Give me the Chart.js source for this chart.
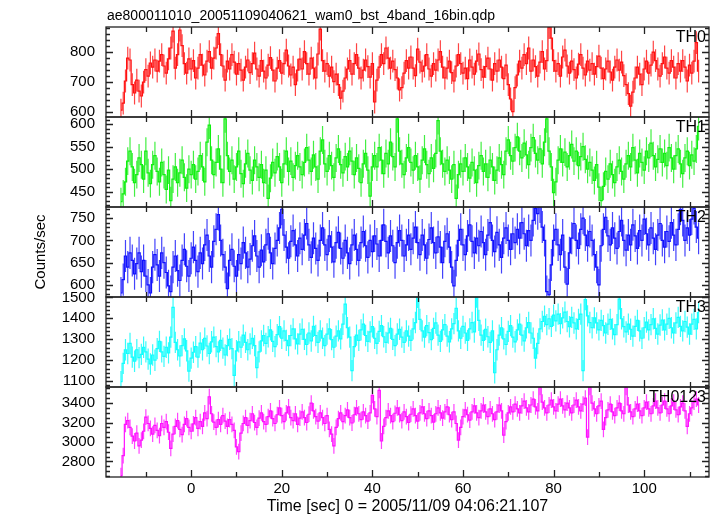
<!DOCTYPE html>
<html>
<head>
<meta charset="utf-8">
<script src="https://cdn.jsdelivr.net/npm/chart.js@4.4.1/dist/chart.umd.min.js"></script>
<style>
  html, body { margin: 0; padding: 0; background: #fff; }
  #wrap { width: 717px; height: 516px; }
</style>
</head>
<body>
<div id="wrap"><canvas id="chart" width="717" height="516"></canvas></div>
<script>
// time bins: 0.5 s wide, first bin starts at -15.75 s
const binStart = -15.75;
const binWidth = 0.5;

const th0Counts = [
  605, 628, 702, 778, 772, 690, 662, 705, 668, 652, 698, 740, 718, 762, 748, 772,
  735, 768, 790, 752, 728, 776, 812, 868, 745, 790, 872, 820, 760, 728, 776, 742,
  770, 712, 745, 790, 755, 722, 768, 800, 745, 778, 812, 860, 790, 752, 705, 768,
  742, 790, 765, 725, 760, 738, 705, 748, 772, 730, 760, 795, 742, 718, 770, 735,
  712, 755, 780, 738, 702, 745, 770, 728, 760, 805, 752, 722, 748, 690, 738, 775,
  742, 800, 760, 725, 778, 745, 712, 792, 875, 770, 735, 760, 718, 748, 700, 725,
  690, 645, 668, 712, 742, 770, 725, 760, 790, 745, 712, 738, 772, 750, 715, 760,
  632, 705, 748, 790, 760, 812, 778, 745, 768, 740, 712, 672, 680, 728, 770, 745,
  782, 745, 720, 808, 765, 735, 752, 790, 742, 718, 760, 738, 772, 800, 748, 712,
  745, 768, 730, 702, 752, 790, 760, 728, 745, 710, 772, 748, 725, 768, 792, 740,
  715, 750, 778, 742, 705, 760, 735, 772, 748, 710, 755, 690, 642, 600, 680, 722,
  768, 745, 790, 760, 812, 735, 772, 750, 718, 765, 800, 742, 770, 880, 845, 770,
  735, 760, 718, 782, 805, 752, 728, 768, 740, 712, 758, 790, 745, 722, 768, 738,
  760, 725, 750, 785, 745, 710, 742, 768, 732, 705, 748, 772, 738, 765, 720, 690,
  660, 618, 665, 712, 748, 725, 690, 742, 768, 728, 755, 798, 770, 742, 718, 760,
  782, 745, 728, 770, 748, 712, 760, 735, 770, 748, 702, 755, 728, 768, 830, 735
];
const th1Counts = [
  428, 445, 472, 518, 540, 505, 470, 488, 525, 510, 478, 540, 492, 468, 510, 530,
  495, 472, 515, 488, 455, 498, 430, 478, 505, 470, 492, 520, 482, 458, 500, 488,
  510, 478, 495, 530, 505, 472, 560, 598, 520, 488, 515, 545, 500, 470, 612, 530,
  495, 520, 478, 505, 540, 490, 468, 512, 535, 498, 475, 520, 505, 482, 510, 470,
  498, 435, 480, 515, 492, 528, 505, 470, 512, 540, 495, 518, 482, 508, 530, 505,
  488, 515, 548, 520, 495, 532, 505, 478, 540, 565, 512, 495, 530, 508, 482, 525,
  545, 510, 492, 528, 505, 540, 518, 488, 525, 502, 470, 512, 535, 498, 440, 505,
  530, 505, 548, 520, 490, 535, 512, 560, 528, 505, 612, 540, 512, 488, 525, 548,
  515, 498, 530, 505, 478, 520, 545, 510, 490, 525, 502, 535, 608, 540, 512, 495,
  520, 498, 478, 510, 435, 488, 512, 495, 525, 505, 480, 515, 498, 470, 508, 530,
  495, 512, 482, 520, 505, 475, 498, 525, 510, 488, 540, 565, 530, 518, 548, 572,
  540, 525, 558, 532, 510, 548, 570, 535, 520, 545, 512, 560, 612, 540, 505, 448,
  472, 520, 545, 515, 538, 505, 530, 555, 518, 540, 508, 528, 550, 522, 500, 515,
  498, 475, 510, 460, 430, 462, 495, 478, 512, 488, 470, 505, 520, 495, 478, 512,
  530, 505, 548, 520, 492, 535, 515, 498, 540, 525, 558, 530, 505, 522, 545, 515,
  535, 508, 548, 525, 500, 530, 545, 512, 490, 525, 540, 508, 532, 518, 545, 595
];
const th2Counts = [
  582, 612, 665, 640, 672, 655, 625, 648, 672, 630, 655, 620, 600, 582, 640, 668,
  645, 620, 672, 650, 628, 598, 585, 640, 665, 632, 610, 655, 680, 642, 620, 660,
  685, 655, 630, 672, 648, 690, 712, 665, 640, 698, 725, 758, 700, 668, 640, 592,
  655, 680, 642, 620, 668, 648, 695, 672, 640, 658, 688, 710, 665, 640, 678, 652,
  690, 715, 672, 648, 682, 700, 728, 770, 712, 685, 660, 698, 722, 690, 665, 705,
  680, 712, 738, 690, 662, 705, 682, 655, 700, 728, 690, 668, 710, 685, 652, 695,
  718, 682, 660, 700, 672, 648, 690, 712, 680, 655, 695, 720, 688, 662, 700, 675,
  710, 692, 665, 700, 735, 698, 672, 710, 688, 650, 695, 722, 700, 665, 690, 712,
  680, 705, 730, 695, 668, 712, 690, 660, 702, 728, 695, 672, 708, 685, 650, 698,
  715, 685, 640, 598, 655, 700, 725, 690, 668, 710, 735, 698, 672, 705, 688, 720,
  695, 668, 712, 740, 700, 675, 718, 690, 662, 705, 728, 700, 680, 715, 695, 725,
  705, 740, 715, 688, 722, 700, 745, 772, 760, 775, 730, 700, 585, 578, 645, 700,
  725, 690, 668, 712, 640, 602, 672, 705, 738, 700, 682, 725, 750, 712, 688, 720,
  700, 668, 640, 600, 688, 725, 752, 710, 690, 728, 705, 682, 720, 745, 700, 678,
  712, 690, 735, 710, 682, 722, 700, 748, 715, 690, 728, 705, 680, 712, 738, 700,
  685, 720, 698, 740, 712, 690, 725, 770, 745, 700, 728, 712, 748, 772, 730, 705
];
const th3Counts = [
  1098, 1185, 1250, 1232, 1280, 1215, 1195, 1250, 1212, 1228, 1262, 1240, 1205, 1182, 1225, 1200,
  1255, 1290, 1240, 1218, 1262, 1235, 1310, 1452, 1285, 1250, 1220, 1270, 1302, 1245, 1148, 1210,
  1238, 1265, 1215, 1282, 1250, 1305, 1268, 1232, 1288, 1310, 1265, 1240, 1295, 1258, 1225, 1270,
  1300, 1255, 1128, 1245, 1288, 1262, 1320, 1285, 1250, 1278, 1305, 1270, 1165, 1240, 1292, 1318,
  1280, 1312, 1345, 1290, 1265, 1322, 1360, 1305, 1340, 1295, 1270, 1318, 1350, 1302, 1278, 1325,
  1348, 1300, 1275, 1330, 1292, 1362, 1318, 1285, 1340, 1305, 1270, 1325, 1350, 1298, 1262, 1315,
  1340, 1302, 1372, 1468, 1355, 1310, 1150, 1265, 1320, 1295, 1345, 1372, 1318, 1290, 1335, 1360,
  1305, 1280, 1338, 1365, 1312, 1285, 1330, 1352, 1300, 1270, 1325, 1348, 1310, 1285, 1340, 1315,
  1295, 1350, 1380, 1500, 1395, 1340, 1310, 1365, 1332, 1298, 1352, 1378, 1320, 1290, 1345, 1370,
  1315, 1288, 1350, 1375, 1448, 1340, 1305, 1362, 1330, 1295, 1350, 1380, 1335, 1502, 1390, 1320,
  1295, 1348, 1312, 1285, 1340, 1140, 1250, 1320, 1355, 1302, 1275, 1338, 1365, 1310, 1288, 1345,
  1372, 1320, 1292, 1355, 1380, 1330, 1305, 1210, 1280, 1350, 1385, 1410, 1370, 1398, 1362, 1415,
  1388, 1420, 1375, 1402, 1430, 1385, 1360, 1405, 1378, 1350, 1395, 1420, 1150, 1490, 1412, 1380,
  1355, 1402, 1378, 1345, 1390, 1365, 1330, 1372, 1395, 1350, 1322, 1370, 1492, 1398, 1360, 1335,
  1372, 1348, 1315, 1362, 1390, 1340, 1305, 1355, 1382, 1345, 1370, 1398, 1352, 1325, 1368, 1392,
  1345, 1372, 1400, 1355, 1330, 1378, 1405, 1362, 1340, 1385, 1358, 1325, 1372, 1395, 1350, 1428
];
const th0123Counts = [
  2655, 2860, 3180, 3220, 3150, 3060, 3010, 3090, 2960, 3020, 3110, 3255, 3190, 3140, 3080, 3170,
  3120, 3065, 3190, 3150, 3210, 3100, 2935, 3080, 3160, 3220, 3130, 3075, 3180, 3240, 3150, 3110,
  3185, 3250, 3140, 3210, 3160, 3300, 3240, 3465, 3290, 3205, 3150, 3230, 3180, 3270, 3215, 3160,
  3230, 3180, 3120, 2950, 2900, 3090, 3190, 3250, 3170, 3220, 3290, 3200, 3150, 3245, 3300, 3210,
  3180, 3260, 3320, 3240, 3190, 3280, 3350, 3270, 3210, 3300, 3360, 3250, 3220, 3290, 3180, 3245,
  3310, 3250, 3200, 3285, 3400, 3320, 3260, 3215, 3300, 3250, 3190, 3270, 3130, 3080, 2960, 3150,
  3240, 3300, 3210, 3270, 3330, 3250, 3195, 3280, 3350, 3290, 3230, 3310, 3270, 3215, 3300, 3480,
  3340, 3260, 3530, 3010, 3160, 3250, 3320, 3270, 3210, 3295, 3350, 3280, 3220, 3310, 3260, 3200,
  3285, 3340, 3270, 3215, 3300, 3360, 3290, 3240, 3320, 3270, 3205, 3290, 3350, 3300, 3245, 3310,
  3360, 3280, 3230, 3310, 3190, 3020, 3150, 3260, 3330, 3280, 3225, 3310, 3370, 3300, 3250, 3320,
  3380, 3310, 3260, 3340, 3290, 3230, 3310, 3380, 3320, 3070, 3210, 3300, 3360, 3310, 3390, 3340,
  3300, 3370, 3420, 3350, 3310, 3380, 3440, 3360, 3320, 3560, 3410, 3350, 3300, 3380, 3430, 3360,
  3320, 3390, 3440, 3370, 3330, 3400, 3350, 3300, 3380, 3430, 3360, 3320, 3390, 3450, 3050, 3560,
  3400, 3340, 3290, 3370, 3420, 3130, 3250, 3330, 3390, 3310, 3270, 3350, 3400, 3320, 3290, 3560,
  3380, 3310, 3260, 3340, 3390, 3320, 3270, 3350, 3410, 3340, 3290, 3370, 3420, 3350, 3300, 3380,
  3420, 3340, 3290, 3370, 3410, 3330, 3280, 3360, 3400, 3320, 3160, 3290, 3350, 3410, 3440, 3380
];

// half-length of the error bars, one per panel
const errorHalf = [38, 31, 36, 51, 81];

// axis ranges and labelled ticks for each panel
const th0Range = [582, 882],   th0Ticks = [600, 700, 800];
const th1Range = [416, 616],   th1Ticks = [450, 500, 550, 600];
const th2Range = [573, 775],   th2Ticks = [600, 650, 700, 750];
const th3Range = [1072, 1502], th3Ticks = [1100, 1200, 1300, 1400, 1500];
const th0123Range = [2640, 3565], th0123Ticks = [2800, 3000, 3200, 3400];
const minorSteps = [20, 10, 10, 20, 50];

const xRange = [-18.8, 114.3];
const xTickLabels = [0, 20, 40, 60, 80, 100];

const panels = [
  { name: 'TH0',    counts: th0Counts,    range: th0Range,    ticks: th0Ticks,    color: '#ff1010', errColor: 'rgba(255,20,20,0.8)' },
  { name: 'TH1',    counts: th1Counts,    range: th1Range,    ticks: th1Ticks,    color: '#10f010', errColor: 'rgba(20,235,20,0.8)' },
  { name: 'TH2',    counts: th2Counts,    range: th2Range,    ticks: th2Ticks,    color: '#1010ff', errColor: 'rgba(20,20,250,0.8)' },
  { name: 'TH3',    counts: th3Counts,    range: th3Range,    ticks: th3Ticks,    color: '#10ffff', errColor: 'rgba(20,250,250,0.85)' },
  { name: 'TH0123', counts: th0123Counts, range: th0123Range, ticks: th0123Ticks, color: '#ff10ff', errColor: 'rgba(255,20,255,0.8)' }
];

const FONT = '"Liberation Sans", Arial, Helvetica, sans-serif';
Chart.defaults.font.family = FONT;
Chart.defaults.font.size = 15;
Chart.defaults.color = '#000';

const binCenter = i => binStart + binWidth * (i + 0.5);

// build datasets: a stepped line plus error bars for each panel
const datasets = [];
panels.forEach((p, k) => {
  const e = errorHalf[k];
  datasets.push({
    data: p.counts.map((v, i) => ({ x: binCenter(i), y: v })),
    yAxisID: 'y' + k,
    borderColor: p.color,
    borderWidth: 1.2,
    stepped: 'middle',
    pointRadius: 0,
    fill: false,
    order: 1
  });
  const bars = [];
  p.counts.forEach((v, i) => {
    bars.push({ x: binCenter(i), y: v - e }, { x: binCenter(i), y: v + e }, { x: binCenter(i), y: null });
  });
  datasets.push({
    data: bars,
    yAxisID: 'y' + k,
    borderColor: p.errColor,
    borderWidth: 1.2,
    pointRadius: 0,
    spanGaps: false,
    fill: false,
    order: 2
  });
});

// scales: last defined left axis ends up at the top of the stack
const scales = {
  x: {
    type: 'linear',
    min: xRange[0],
    max: xRange[1],
    grid: { display: false, drawTicks: false },
    border: { display: false },
    ticks: { padding: 3, maxRotation: 0, autoSkip: false },
    afterBuildTicks: axis => { axis.ticks = xTickLabels.map(v => ({ value: v })); },
    afterFit: axis => { axis.height = 39; },
    title: { display: true, text: 'Time [sec] 0 = 2005/11/09 04:06:21.107', font: { size: 16 }, padding: { top: 0, bottom: 0 } }
  }
};
for (let k = panels.length - 1; k >= 0; k--) {
  const p = panels[k];
  scales['y' + k] = {
    type: 'linear',
    position: 'left',
    stack: 'panels',
    stackWeight: 1,
    min: p.range[0],
    max: p.range[1],
    grid: { display: false, drawTicks: false },
    border: { display: false },
    ticks: { padding: 11, autoSkip: false, callback: v => String(v) },
    afterBuildTicks: axis => { axis.ticks = p.ticks.map(v => ({ value: v })); },
    afterFit: axis => { axis.width = 106; },
    title: k === 2
      ? { display: true, text: 'Counts/sec', padding: { top: 32, bottom: 0 } }
      : { display: false }
  };
}

const framePlugin = {
  id: 'qdpFrame',
  beforeDatasetDraw(chart, args) {
    const ys = args.meta.yScale, area = chart.chartArea, ctx = chart.ctx;
    ctx.save();
    ctx.beginPath();
    ctx.rect(area.left, ys.top, area.right - area.left, ys.bottom - ys.top);
    ctx.clip();
  },
  afterDatasetDraw(chart) {
    chart.ctx.restore();
  },
  afterDraw(chart) {
    const ctx = chart.ctx, area = chart.chartArea, xs = chart.scales.x;
    ctx.save();
    ctx.strokeStyle = '#222';
    ctx.lineWidth = 1.3;
    panels.forEach((p, k) => {
      const ys = chart.scales['y' + k];
      ctx.strokeRect(area.left, ys.top, area.right - area.left, ys.bottom - ys.top);
      ctx.beginPath();
      const step = minorSteps[k];
      for (let v = Math.ceil(p.range[0] / step) * step; v <= p.range[1]; v += step) {
        const y = Math.round(ys.getPixelForValue(v)) + 0.5;
        const len = p.ticks.includes(v) ? 7 : 4;
        ctx.moveTo(area.left, y); ctx.lineTo(area.left + len, y);
        ctx.moveTo(area.right, y); ctx.lineTo(area.right - len, y);
      }
      for (let t = Math.ceil(xRange[0] / 10) * 10; t <= xRange[1]; t += 10) {
        const x = Math.round(xs.getPixelForValue(t)) + 0.5;
        const len = xTickLabels.includes(t) ? 7 : 5;
        ctx.moveTo(x, ys.top); ctx.lineTo(x, ys.top + len);
        ctx.moveTo(x, ys.bottom); ctx.lineTo(x, ys.bottom - len);
      }
      ctx.stroke();
      ctx.fillStyle = '#000';
      ctx.font = '16px ' + FONT;
      ctx.textAlign = 'right';
      ctx.textBaseline = 'middle';
      ctx.fillText(p.name, area.right - 3, ys.top + 11);
    });
    ctx.font = '14px ' + FONT;
    ctx.textAlign = 'left';
    ctx.textBaseline = 'middle';
    ctx.fillStyle = '#000';
    ctx.fillText('ae800011010_20051109040621_wam0_bst_4band_16bin.qdp', area.left + 1, 16);
    ctx.restore();
  }
};

new Chart(document.getElementById('chart'), {
  type: 'line',
  data: { datasets },
  options: {
    responsive: false,
    devicePixelRatio: 1,
    animation: false,
    layout: { padding: { top: 27, right: 8, left: 0, bottom: 0 } },
    plugins: { legend: { display: false }, tooltip: { enabled: false }, title: { display: false } },
    scales
  },
  plugins: [framePlugin]
});
</script>
</body>
</html>
